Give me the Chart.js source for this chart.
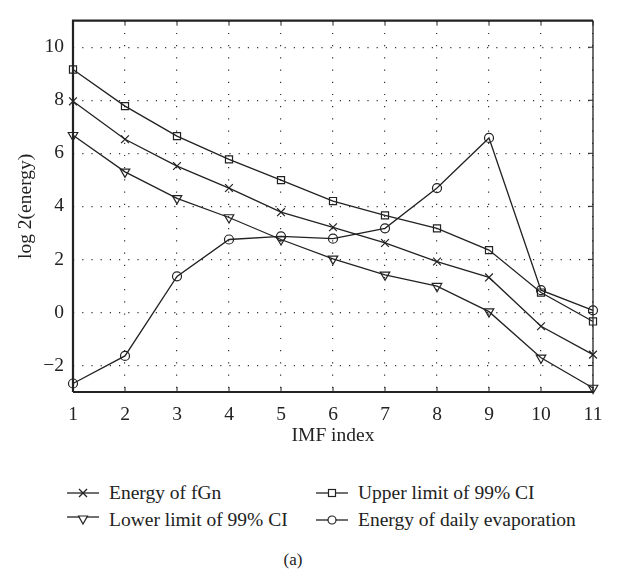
<!DOCTYPE html>
<html>
<head>
<meta charset="utf-8">
<script src="https://cdn.jsdelivr.net/npm/chart.js@4"></script>
<style>
  body { margin: 0; background: #fff; font-family: "Liberation Serif", serif; color: #222; }
  #wrap { position: relative; width: 638px; height: 573px; }
  #box { position: absolute; left: 0; top: 0; width: 638px; height: 460px; }
  .leg { position: absolute; font-size: 19.5px; line-height: 20px; white-space: nowrap; display: flex; align-items: center; }
  .leg svg { margin-right: 10px; }
  #cap { position: absolute; left: 0; width: 586px; top: 550px; text-align: center; font-size: 17px; }
</style>
</head>
<body>
<div id="wrap">
  <div id="box"><canvas id="chart"></canvas></div>
  <div class="leg" style="left:67px; top:483px;">
    <svg width="32" height="12"><line x1="0" y1="6" x2="32" y2="6" stroke="#222" stroke-width="1.3"/><path d="M12 2 L20 10 M20 2 L12 10" stroke="#222" stroke-width="1.3"/></svg>Energy of fGn</div>
  <div class="leg" style="left:316px; top:483px;">
    <svg width="32" height="12"><line x1="0" y1="6" x2="32" y2="6" stroke="#222" stroke-width="1.3"/><rect x="12.5" y="2.5" width="7" height="7" fill="#fff" stroke="#222" stroke-width="1.2"/></svg>Upper limit of 99% CI</div>
  <div class="leg" style="left:67px; top:510px;">
    <svg width="32" height="12"><line x1="0" y1="3" x2="32" y2="3" stroke="#222" stroke-width="1.3"/><path d="M11.5 2 L20.5 2 L16 10 Z" fill="#fff" stroke="#222" stroke-width="1.2"/></svg>Lower limit of 99% CI</div>
  <div class="leg" style="left:316px; top:510px;">
    <svg width="32" height="12"><line x1="0" y1="6" x2="32" y2="6" stroke="#222" stroke-width="1.3"/><circle cx="16" cy="6" r="4" fill="#fff" stroke="#222" stroke-width="1.2"/></svg>Energy of daily evaporation</div>
  <div id="cap">(a)</div>
</div>
<script>
const imfIndex = ['1', '2', '3', '4', '5', '6', '7', '8', '9', '10', '11'];
const energyFgn = [7.96, 6.53, 5.52, 4.69, 3.78, 3.21, 2.62, 1.92, 1.32, -0.52, -1.59];
const upperCI = [9.16, 7.78, 6.65, 5.77, 4.99, 4.2, 3.66, 3.17, 2.35, 0.75, -0.34];
const lowerCI = [6.68, 5.3, 4.3, 3.58, 2.75, 2.02, 1.42, 0.99, 0.03, -1.71, -2.85];
const evaporation = [-2.68, -1.64, 1.36, 2.75, 2.87, 2.78, 3.17, 4.69, 6.58, 0.84, 0.08];
const yTicks = [-2, 0, 2, 4, 6, 8, 10];

const INK = '#222';
const FONT = { family: '"Liberation Serif", serif', size: 19.5 };

function series(data, style, radius, rotation) {
  return {
    data: data,
    borderColor: INK,
    borderWidth: 1.3,
    pointStyle: style,
    pointRadius: radius,
    pointRotation: rotation || 0,
    pointBorderColor: INK,
    pointBorderWidth: 1.2,
    pointBackgroundColor: 'rgba(0,0,0,0)',
    tension: 0,
    clip: false
  };
}

// box around the plot plus inward tick marks (top, bottom, right)
const frame = {
  id: 'frame',
  afterDraw(chart) {
    const { ctx, chartArea: a, scales: { x, y } } = chart;
    ctx.save();
    ctx.strokeStyle = INK;
    ctx.lineWidth = 1;
    x.ticks.forEach((t, i) => {
      const px = x.getPixelForTick(i);
      ctx.beginPath();
      ctx.moveTo(px, a.top); ctx.lineTo(px, a.top + 5);
      ctx.moveTo(px, a.bottom); ctx.lineTo(px, a.bottom - 5);
      ctx.stroke();
    });
    y.ticks.forEach((t, i) => {
      const py = y.getPixelForTick(i);
      ctx.beginPath();
      ctx.moveTo(a.right, py); ctx.lineTo(a.right - 5, py);
      ctx.stroke();
    });
    ctx.lineWidth = 1.3;
    ctx.beginPath();
    ctx.moveTo(a.right, a.top); ctx.lineTo(a.right, a.bottom);
    ctx.stroke();
    ctx.lineWidth = 2.2;
    ctx.beginPath();
    ctx.moveTo(a.left, a.bottom); ctx.lineTo(a.left, a.top); ctx.lineTo(a.right, a.top);
    ctx.moveTo(a.left, a.bottom); ctx.lineTo(a.right, a.bottom);
    ctx.stroke();
    ctx.restore();
  }
};

new Chart(document.getElementById('chart'), {
  type: 'line',
  data: {
    labels: imfIndex,
    datasets: [
      series(energyFgn, 'crossRot', 5.5),
      series(upperCI, 'rect', 5),
      series(lowerCI, 'triangle', 5.5, 180),
      series(evaporation, 'circle', 4.5)
    ]
  },
  options: {
    responsive: true,
    maintainAspectRatio: false,
    animation: false,
    layout: { padding: { left: 0, right: 45, top: 6, bottom: 0 } },
    plugins: { legend: { display: false }, tooltip: { enabled: false } },
    scales: {
      x: {
        offset: false,
        afterFit(s) { s.height = 68; },
        grid: { color: '#333', lineWidth: 1.2, drawTicks: false, borderDash: [1.2, 11] },
        border: { display: true, width: 0, dash: [1.2, 11] },
        ticks: { color: INK, font: FONT, padding: 11, maxRotation: 0 },
        title: { display: true, text: 'IMF index', color: INK, font: FONT, padding: { top: 0, bottom: 12 } }
      },
      y: {
        min: -3,
        max: 11,
        afterFit(s) { s.width = 73; },
        afterBuildTicks(s) { s.ticks = yTicks.map(v => ({ value: v })); },
        grid: { color: '#333', lineWidth: 1.2, drawTicks: false, borderDash: [1.2, 8] },
        border: { display: true, width: 0, dash: [1.2, 8] },
        ticks: {
          color: INK, font: FONT, padding: 9,
          callback: v => String(v).replace('-', '\u2212')
        },
        title: { display: true, text: 'log 2(energy)', color: INK, font: FONT, padding: { top: 14, bottom: 0 } }
      }
    }
  },
  plugins: [frame]
});
</script>
</body>
</html>
